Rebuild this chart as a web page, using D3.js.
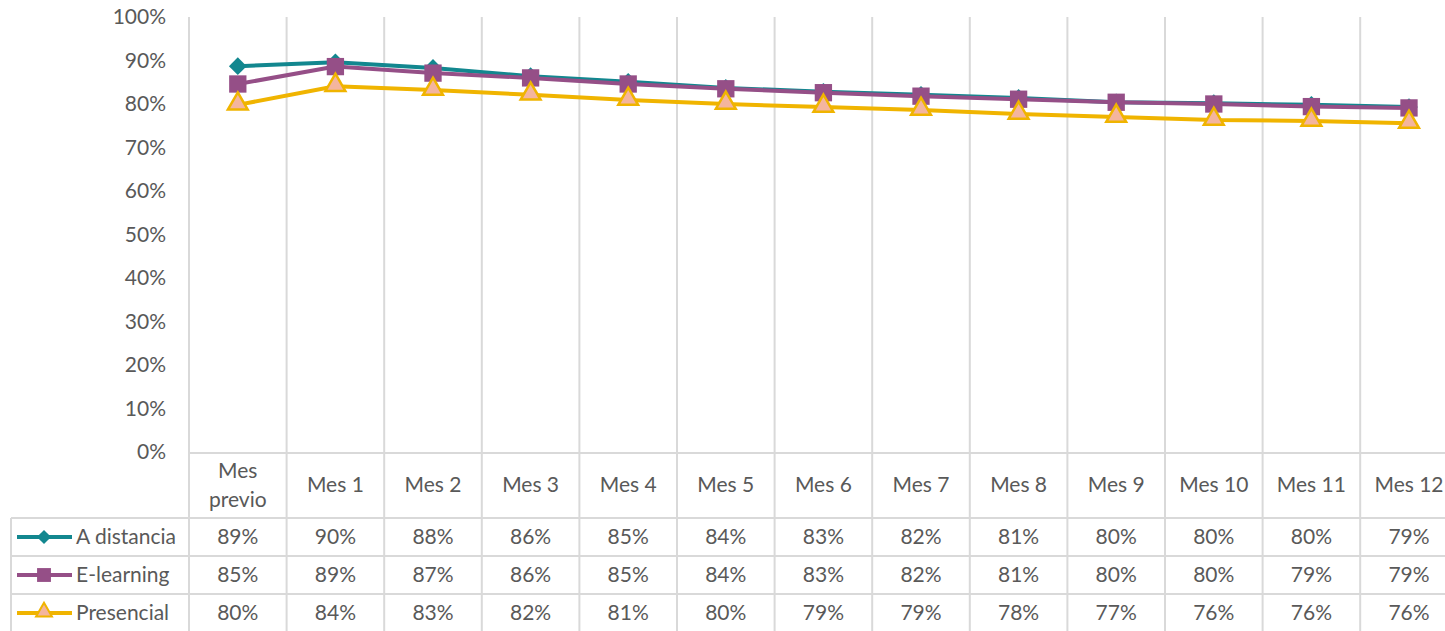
<!DOCTYPE html>
<html>
<head>
<meta charset="utf-8">
<script src="https://cdn.jsdelivr.net/npm/d3@7"></script>
<style>
  body { margin: 0; background: #fff; }
  text { font-family: "Lato", "Open Sans", sans-serif; fill: #595959; }
</style>
</head>
<body>
<svg id="chart" width="1445" height="631"></svg>
<script>
var categories = ["Mes previo", "Mes 1", "Mes 2", "Mes 3", "Mes 4", "Mes 5", "Mes 6", "Mes 7", "Mes 8", "Mes 9", "Mes 10", "Mes 11", "Mes 12"];
var aDistancia = [0.887, 0.896, 0.883, 0.864, 0.851, 0.837, 0.828, 0.821, 0.814, 0.804, 0.802, 0.798, 0.793];
var eLearning = [0.846, 0.886, 0.871, 0.860, 0.846, 0.835, 0.826, 0.818, 0.811, 0.804, 0.800, 0.794, 0.791];
var presencial = [0.798, 0.841, 0.832, 0.821, 0.809, 0.800, 0.793, 0.786, 0.777, 0.770, 0.763, 0.761, 0.756];
var yTicks = [0, 0.1, 0.2, 0.3, 0.4, 0.5, 0.6, 0.7, 0.8, 0.9, 1];

var series = [
    {name: "A distancia", values: aDistancia, color: "#12878F", marker: "diamond"},
    {name: "E-learning", values: eLearning, color: "#954F87", marker: "square"},
    {name: "Presencial", values: presencial, color: "#F0B400", marker: "triangle"}
];

var dims = {left: 189, colWidth: 97.6, top: 17, bottom: 452, tableLeft: 11,
    headerBottom: 518, rowHeight: 38, height: 631};
var fontSize = "21px";

var xScale = d3.scaleBand()
    .domain(categories)
    .range([dims.left, dims.left + dims.colWidth * categories.length]);

var yScale = d3.scaleLinear()
    .domain([0, 1])
    .range([dims.bottom, dims.top]);

var PCTFORMAT = d3.format(".0%");
var gridColor = "#D9D9D9";

var svg = d3.select("#chart");

function cx(c) { return xScale(c) + xScale.bandwidth() / 2; }

// vertical grid lines (category boundaries), run through the data table
var bounds = categories.map(function(c) { return xScale(c); });
bounds.push(xScale.range()[1]);
svg.append("g").selectAll("line")
    .data(bounds)
    .enter()
    .append("line")
    .attr("x1", function(d) { return d; })
    .attr("x2", function(d) { return d; })
    .attr("y1", dims.top)
    .attr("y2", dims.height)
    .attr("stroke", gridColor)
    .attr("stroke-width", 2);

// table horizontal lines
var rowLines = [dims.bottom + 1, dims.headerBottom, dims.headerBottom + dims.rowHeight, dims.headerBottom + 2 * dims.rowHeight];
svg.append("g").selectAll("line")
    .data(rowLines)
    .enter()
    .append("line")
    .attr("x1", function(d, i) { return i === 0 ? dims.left : dims.tableLeft; })
    .attr("x2", xScale.range()[1])
    .attr("y1", function(d) { return d; })
    .attr("y2", function(d) { return d; })
    .attr("stroke", gridColor)
    .attr("stroke-width", 2);

svg.append("line")
    .attr("x1", dims.tableLeft).attr("x2", dims.tableLeft)
    .attr("y1", dims.headerBottom).attr("y2", dims.height)
    .attr("stroke", gridColor)
    .attr("stroke-width", 2);

// y axis labels
svg.append("g").selectAll("text")
    .data(yTicks)
    .enter()
    .append("text")
    .attr("x", 166)
    .attr("y", function(d) { return yScale(d); })
    .attr("dy", "0.35em")
    .attr("text-anchor", "end")
    .style("font-size", fontSize)
    .text(function(d) { return PCTFORMAT(d); });

// header labels
var header = svg.append("g").selectAll("text")
    .data(categories)
    .enter()
    .append("text")
    .attr("x", cx)
    .attr("y", (dims.bottom + dims.headerBottom) / 2)
    .attr("text-anchor", "middle")
    .style("font-size", fontSize);

header.each(function(d) {
    var words = d === "Mes previo" ? ["Mes", "previo"] : [d];
    var t = d3.select(this);
    words.forEach(function(w, i) {
        t.append("tspan")
            .attr("x", cx(d))
            .attr("dy", i === 0 ? (words.length === 1 ? "0.35em" : "-0.32em") : "1.35em")
            .text(w);
    });
});

function markerPath(type) {
    if (type === "diamond") return d3.symbol().type(d3.symbolDiamond2).size(200)();
    if (type === "square") return d3.symbol().type(d3.symbolSquare).size(300)();
    return d3.symbol().type(d3.symbolTriangle).size(170)();
}

function drawMarker(g, s) {
    g.append("path")
        .attr("d", markerPath(s.marker))
        .attr("fill", s.marker === "triangle" ? "#F4B59E" : s.color)
        .attr("stroke", s.marker === "triangle" ? s.color : "none")
        .attr("stroke-width", 2.5)
        .attr("stroke-linejoin", "miter");
}

var line = d3.line()
    .x(function(d, i) { return cx(categories[i]); })
    .y(function(d) { return yScale(d); });

series.forEach(function(s, si) {
    var g = svg.append("g");
    g.append("path")
        .datum(s.values)
        .attr("d", line)
        .attr("fill", "none")
        .attr("stroke", s.color)
        .attr("stroke-width", 4)
        .attr("stroke-linejoin", "round");

    g.selectAll(".marker")
        .data(s.values)
        .enter()
        .append("g")
        .attr("class", "marker")
        .attr("transform", function(d, i) {
            var dy = s.marker === "triangle" ? -1 : 0;
            return "translate(" + cx(categories[i]) + "," + (yScale(d) + dy) + ")";
        })
        .each(function() { drawMarker(d3.select(this), s); });

    // table row
    var rowMid = dims.headerBottom + dims.rowHeight * si + dims.rowHeight / 2;
    svg.append("g").selectAll("text")
        .data(s.values)
        .enter()
        .append("text")
        .attr("x", function(d, i) { return cx(categories[i]); })
        .attr("y", rowMid)
        .attr("dy", "0.35em")
        .attr("text-anchor", "middle")
        .style("font-size", fontSize)
        .text(function(d) { return PCTFORMAT(d); });

    // legend key
    var key = svg.append("g");
    key.append("line")
        .attr("x1", 17).attr("x2", 72)
        .attr("y1", rowMid).attr("y2", rowMid)
        .attr("stroke", s.color)
        .attr("stroke-width", 4);
    var km = key.append("g")
        .attr("transform", "translate(44," + (rowMid + (s.marker === "triangle" ? -1 : 0)) + ") scale(0.8)");
    drawMarker(km, s);
    key.append("text")
        .attr("x", 76)
        .attr("y", rowMid)
        .attr("dy", "0.35em")
        .style("font-size", fontSize)
        .text(s.name);
});
</script>
</body>
</html>
